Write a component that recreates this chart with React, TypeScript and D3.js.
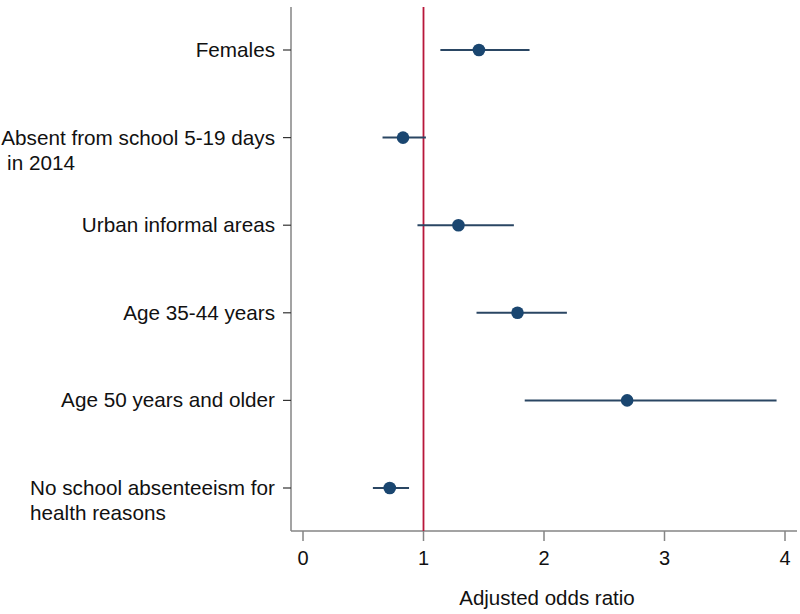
import * as d3 from 'd3';
import { useEffect, useRef } from 'react';

// categories, top to bottom (each entry = lines of the label)
const labels: string[][] = [
  ['Females'],
  ['Absent from school 5-19 days', ' in 2014'],
  ['Urban informal areas'],
  ['Age 35-44 years'],
  ['Age 50 years and older'],
  ['No school absenteeism for', 'health reasons'],
];
const estimate = [1.46, 0.83, 1.29, 1.78, 2.69, 0.72];
const lower = [1.14, 0.66, 0.95, 1.44, 1.84, 0.58];
const upper = [1.88, 1.02, 1.75, 2.19, 3.93, 0.88];
const xTicks = [0, 1, 2, 3, 4];

const App = () => {
  const svgRef = useRef<SVGSVGElement>(null);
  const width = 800, height = 614;
  const axisLeft = 291, axisRight = 797, axisTop = 7, axisBottom = 531;

  useEffect(() => {
    const svg = d3.select(svgRef.current);
    svg.selectAll('*').remove();
    const font = 'Liberation Sans, Arial, sans-serif';

    const x = d3.scaleLinear().domain([0, 4]).range([303, 785]);
    const y = d3.scalePoint<number>().domain(d3.range(labels.length)).range([50, 488]);

    // axes lines
    svg.append('line').attr('x1', axisLeft).attr('x2', axisLeft)
      .attr('y1', axisTop).attr('y2', axisBottom)
      .attr('stroke', '#858585').attr('stroke-width', 1.5);
    svg.append('line').attr('x1', axisLeft).attr('x2', axisRight)
      .attr('y1', axisBottom).attr('y2', axisBottom)
      .attr('stroke', '#858585').attr('stroke-width', 1.5);

    // x ticks
    xTicks.forEach(t => {
      svg.append('line').attr('x1', x(t)).attr('x2', x(t))
        .attr('y1', axisBottom).attr('y2', axisBottom + 10)
        .attr('stroke', '#858585').attr('stroke-width', 1.5);
      svg.append('text').attr('x', x(t)).attr('y', 565)
        .attr('text-anchor', 'middle').attr('font-family', font)
        .attr('font-size', 20).attr('fill', '#111').text(t);
    });
    svg.append('text').attr('x', 547).attr('y', 605)
      .attr('text-anchor', 'middle').attr('font-family', font)
      .attr('font-size', 20.5).attr('fill', '#111').text('Adjusted odds ratio');

    // y ticks + labels (multi-line blocks are left-aligned, block right edge at 275)
    labels.forEach((lines, i) => {
      const yy = y(i)!;
      svg.append('line').attr('x1', axisLeft - 8).attr('x2', axisLeft)
        .attr('y1', yy).attr('y2', yy)
        .attr('stroke', '#333').attr('stroke-width', 1.2);
      const txt = svg.append('text').attr('font-family', font)
        .attr('font-size', 20.7).attr('fill', '#111')
        .attr('xml:space', 'preserve').style('white-space', 'pre');
      const spans = lines.map((l, j) =>
        txt.append('tspan').attr('y', yy + 7 + j * 25).text(l));
      const w = d3.max(spans, s => (s.node() as SVGTSpanElement).getComputedTextLength()) || 0;
      spans.forEach(s => s.attr('x', 275 - w));
    });

    // reference line at 1
    svg.append('line').attr('x1', x(1)).attr('x2', x(1))
      .attr('y1', axisTop).attr('y2', axisBottom)
      .attr('stroke', '#b8173a').attr('stroke-width', 1.8);

    // CIs and points
    estimate.forEach((e, i) => {
      const yy = y(i)!;
      svg.append('line').attr('x1', x(lower[i])).attr('x2', x(upper[i]))
        .attr('y1', yy).attr('y2', yy)
        .attr('stroke', '#2a4663').attr('stroke-width', 2);
      svg.append('circle').attr('cx', x(e)).attr('cy', yy).attr('r', 6.3)
        .attr('fill', '#1a4670');
    });
  }, []);

  return <svg ref={svgRef} width={width} height={height}
    style={{ position: 'absolute', left: 0, top: 0, background: '#fff' }}></svg>;
};

export default App;
